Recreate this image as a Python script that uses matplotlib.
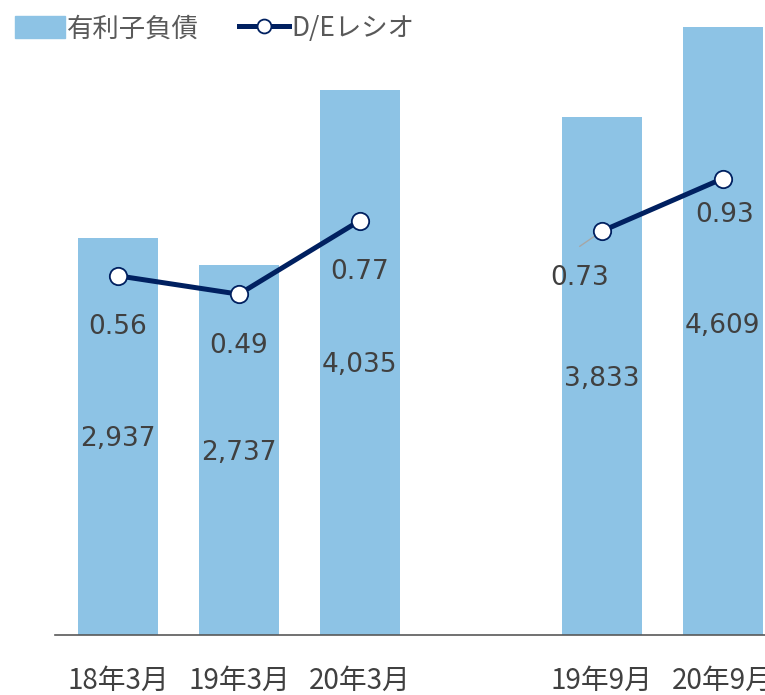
import numpy as np
import matplotlib.pyplot as plt
from matplotlib.lines import Line2D
from matplotlib.patches import Patch

plt.rcParams['font.family'] = ['DejaVu Sans', 'Noto Sans CJK JP']

# データ
categories = ['18年3月', '19年3月', '20年3月', '', '19年9月', '20年9月']
debt = [2937, 2737, 4035, np.nan, 3833, 4609]
de_ratio = [0.56, 0.49, 0.77, np.nan, 0.73, 0.93]

bar_color = '#8DC3E5'
line_color = '#002060'
text_color = '#404040'

x = np.arange(len(categories))
debt = np.array(debt, dtype=float)
de_ratio = np.array(de_ratio, dtype=float)
ok = ~np.isnan(debt)

fig = plt.figure(figsize=(7.65, 6.95), dpi=100)
ax = fig.add_axes([0.0719, 0.0863, 0.9553, 0.8748])

ax.bar(x[ok], debt[ok], width=0.66, color=bar_color, zorder=1)
ax.set_xlim(-0.52, 5.52)
ax.set_ylim(0, 4500)

# 棒のラベル
for xi, v in zip(x[ok], debt[ok]):
    ax.annotate(f'{int(v):,}', (xi, v / 2), xytext=(0, -2), textcoords='offset points',
                ha='center', va='center', fontsize=19, color=text_color, zorder=5)

ax2 = ax.twinx()
ax2.set_ylim(-0.806, 1.506)
ax2.plot(x, de_ratio, color=line_color, lw=3.6, marker='o', ms=12.5,
         mfc='white', mec=line_color, mew=1.3, zorder=3)

# 折れ線のラベル (オフセットは点単位)
offsets = [(0, -37), (0, -37), (0, -37), None, (-16, -34), (1.5, -26)]
for xi, v, off in zip(x, de_ratio, offsets):
    if off is None:
        continue
    ax2.annotate(f'{v:.2f}', (xi, v), xytext=off, textcoords='offset points',
                 ha='center', va='center', fontsize=19, color=text_color)

# 0.73 の引き出し線
ax2.annotate('', (x[4], de_ratio[4]), xytext=(-16, -11), textcoords='offset points',
             arrowprops=dict(arrowstyle='-', color='#A6A6A6', lw=1,
                             shrinkA=0, shrinkB=0), zorder=2)

for a in (ax, ax2):
    for s in ('top', 'right', 'left'):
        a.spines[s].set_visible(False)
    a.set_yticks([])
ax2.spines['bottom'].set_visible(False)
ax.spines['bottom'].set_color('#595959')
ax.spines['bottom'].set_linewidth(1.2)

ticks = [i for i, c in enumerate(categories) if c]
ax.set_xticks(ticks)
ax.set_xticklabels([categories[i] for i in ticks], family='Noto Sans CJK JP',
                   fontsize=20, color=text_color)
ax.tick_params(axis='x', length=0, pad=22)

handles = [Patch(color=bar_color),
           Line2D([], [], color=line_color, lw=3.6, marker='o', ms=10,
                  mfc='white', mec=line_color, mew=1.3)]
fig.legend(handles, ['有利子負債', 'D/Eレシオ'], loc='upper left',
           bbox_to_anchor=(-0.012, 1.012), ncol=2, frameon=False,
           prop={'family': 'Noto Sans CJK JP', 'size': 19},
           labelcolor='#595959', handlelength=1.9, handleheight=0.9,
           handletextpad=0.1, columnspacing=1.5)

fig.savefig('out.png', dpi=100)
